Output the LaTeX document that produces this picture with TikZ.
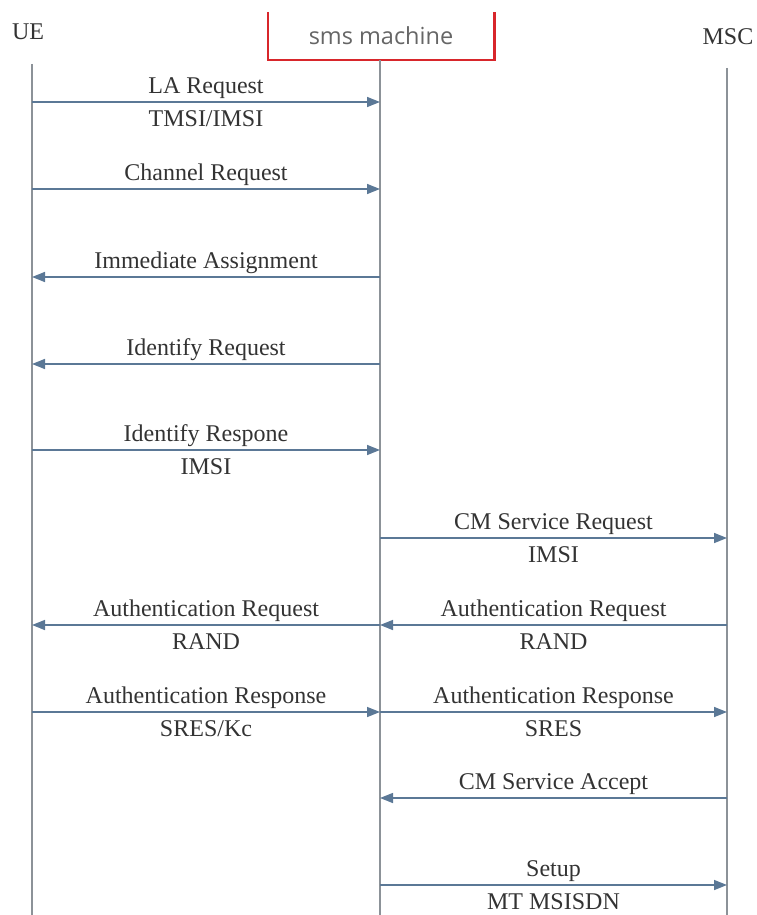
\documentclass[tikz,border=0pt]{standalone}
\usepackage{fontspec}
\setmainfont{Liberation Serif}
\newfontfamily\smsfont{Open Sans}
\usetikzlibrary{arrows.meta}
\definecolor{msgblue}{HTML}{5B7896}
\definecolor{lifegray}{HTML}{8C9298}
\definecolor{bracketred}{HTML}{D8262B}

\begin{document}
\begin{tikzpicture}[x=1pt,y=-1pt,
	msg/.style={draw=msgblue,line width=1.5pt,-{Triangle[length=13pt,width=10pt]}},
	life/.style={draw=lifegray,line width=1.6pt},
	lbl/.style={font=\fontsize{24}{26}\selectfont,text=black!80,inner sep=1pt,
		text height=16pt,text depth=5pt},
	top/.style={above=2pt},
	bot/.style={below=7pt}]
	\useasboundingbox (0,0) rectangle (756,915);

	% entities
	\node[lbl] (ue)  at (28, 34)  {UE};
	\node[lbl] (msc) at (728, 39) {MSC};
	\node[minimum width=226pt,minimum height=48pt,inner sep=0pt] (sms) at (381, 36)
		{\smsfont\fontsize{23.5}{25}\selectfont\color{black!60} sms machine};
	\draw[bracketred,line width=2.6pt] (sms.north west) -- (sms.south west)
		-- (sms.south east) -- (sms.north east);

	% lifelines
	\coordinate (ue-top)  at (32, 64);
	\coordinate (ue-bot)  at (32, 915);
	\coordinate (sm-top)  at (380, 60);
	\coordinate (sm-bot)  at (380, 915);
	\coordinate (msc-top) at (727, 68);
	\coordinate (msc-bot) at (727, 915);
	\path[life] (ue-top) edge (ue-bot);
	\path[life] (sm-top) edge (sm-bot);
	\path[life] (msc-top) edge (msc-bot);

	% UE <-> sms machine
	\coordinate (ue-1) at (32, 102);  \coordinate (sm-1) at (380, 102);
	\coordinate (ue-2) at (32, 189);  \coordinate (sm-2) at (380, 189);
	\coordinate (ue-3) at (32, 277);  \coordinate (sm-3) at (380, 277);
	\coordinate (ue-4) at (32, 364);  \coordinate (sm-4) at (380, 364);
	\coordinate (ue-5) at (32, 450);  \coordinate (sm-5) at (380, 450);
	\coordinate (ue-7) at (32, 625);  \coordinate (sm-7) at (380, 625);
	\coordinate (ue-8) at (32, 712);  \coordinate (sm-8) at (380, 712);

	\draw[msg] (ue-1) -- (sm-1) node[lbl,midway,top] (la) {LA Request}
		node[lbl,midway,bot] (la-id) {TMSI/IMSI};
	\draw[msg] (ue-2) -- (sm-2) node[lbl,midway,top] (chreq) {Channel Request};
	\draw[msg] (sm-3) -- (ue-3) node[lbl,midway,top] (imm) {Immediate Assignment};
	\draw[msg] (sm-4) -- (ue-4) node[lbl,midway,top] (idreq) {Identify Request};
	\draw[msg] (ue-5) -- (sm-5) node[lbl,midway,top] (idresp) {Identify Respone}
		node[lbl,midway,bot] (idresp-id) {IMSI};
	\draw[msg] (sm-7) -- (ue-7) node[lbl,midway,top] (authreq-ue) {Authentication Request}
		node[lbl,midway,bot] (rand-ue) {RAND};
	\draw[msg] (ue-8) -- (sm-8) node[lbl,midway,top] (authresp-ue) {Authentication Response}
		node[lbl,midway,bot] (sres-ue) {SRES/Kc};

	% sms machine <-> MSC
	\coordinate (sm-6)  at (380, 538); \coordinate (msc-6)  at (727, 538);
	\coordinate (msc-7) at (727, 625);
	\coordinate (msc-8) at (727, 712);
	\coordinate (sm-9)  at (380, 798); \coordinate (msc-9)  at (727, 798);
	\coordinate (sm-10) at (380, 885); \coordinate (msc-10) at (727, 885);

	\draw[msg] (sm-6) -- (msc-6) node[lbl,midway,top] (cmreq) {CM Service Request}
		node[lbl,midway,bot] (cmreq-id) {IMSI};
	\draw[msg] (msc-7) -- (sm-7) node[lbl,midway,top] (authreq-msc) {Authentication Request}
		node[lbl,midway,bot] (rand-msc) {RAND};
	\draw[msg] (sm-8) -- (msc-8) node[lbl,midway,top] (authresp-msc) {Authentication Response}
		node[lbl,midway,bot] (sres-msc) {SRES};
	\draw[msg] (msc-9) -- (sm-9) node[lbl,midway,top] (cmacc) {CM Service Accept};
	\draw[msg] (sm-10) -- (msc-10) node[lbl,midway,top] (setup) {Setup}
		node[lbl,midway,bot] (setup-id) {MT MSISDN};
\end{tikzpicture}
\end{document}
